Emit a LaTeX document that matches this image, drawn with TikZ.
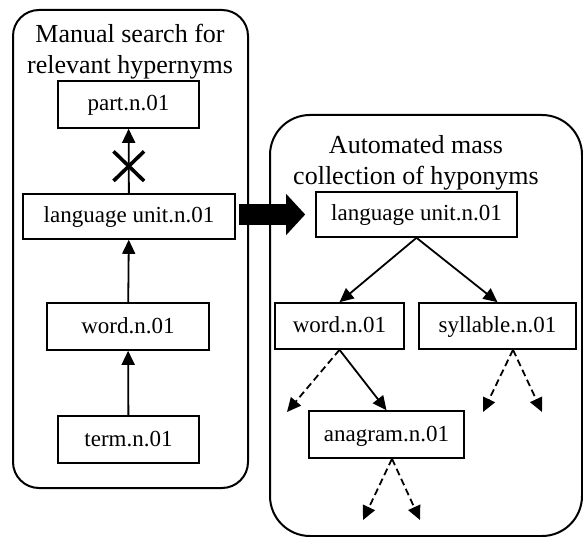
\documentclass[tikz,border=0pt]{standalone}
\usepackage{fontspec}
\setmainfont{Liberation Serif}
\usetikzlibrary{arrows.meta,shapes.misc}

\tikzset{
  synset/.style={draw, line width=1.6pt, inner sep=0pt, text height=17pt, text depth=4pt,
    font=\fontsize{23}{27}\selectfont},
  group/.style={draw, line width=2pt},
  grouptitle/.style={align=center, inner sep=0pt, font=\fontsize{26}{31}\selectfont},
  hyp/.style={line width=1.8pt, -{Triangle[length=14pt,width=13pt]}},
  more/.style={hyp, dash pattern=on 7pt off 4pt},
  nope/.style={cross out, draw, line width=3.6pt, inner sep=0pt, minimum width=27pt, minimum height=26pt},
  handover/.style={line width=21pt, shorten <=3pt, shorten >=10pt, -{Triangle[length=19pt,width=40pt]}}
}

\begin{document}
\begin{tikzpicture}[x=1pt,y=-1pt]
\useasboundingbox (0,0) rectangle (583,537);

% manual part
\draw[group, rounded corners=26pt] (13,10) rectangle (248,488);
\node[grouptitle] (ttl1) at (130,51.5) {Manual search for\\relevant hypernyms};
\node[synset, minimum width=141pt, minimum height=47pt] (part) at (128.5,104.5) {part.n.01};
\node[synset, minimum width=212pt, minimum height=45pt] (lu1) at (129,216.5) {language unit.n.01};
\node[synset, minimum width=162pt, minimum height=47pt] (word1) at (128,326.5) {word.n.01};
\node[synset, minimum width=141pt, minimum height=47pt] (term) at (128.5,439.5) {term.n.01};

\draw[hyp] (term) -- (word1);
\draw[hyp] (word1) -- (lu1);
\draw[hyp] (lu1) -- node[nope, pos=0.42] (cut) {} (part);

% automated part
\draw[group, rounded corners=40pt] (270,115) rectangle (582,536);
\node[grouptitle] (ttl2) at (416,162.5) {Automated mass\\collection of hyponyms};
\node[synset, minimum width=201pt, minimum height=45pt] (lu2) at (416.5,214.5) {language unit.n.01};
\node[synset, minimum width=129pt, minimum height=46pt] (word2) at (339.5,326) {word.n.01};
\node[synset, minimum width=157pt, minimum height=46pt] (syll) at (497.5,326) {syllable.n.01};
\node[synset, minimum width=155pt, minimum height=47pt] (anag) at (386.5,434.5) {anagram.n.01};

\coordinate (w1) at (287,412);
\coordinate (s1) at (483,412);
\coordinate (s2) at (542,412);
\coordinate (a1) at (363,520);
\coordinate (a2) at (420,520);

\draw[hyp] (lu2.south) -- (word2.north);
\draw[hyp] (lu2.south) -- (syll.north);
\draw[hyp] (word2.south) -- (anag.north);
\draw[more] (word2.south) -- (w1);
\draw[more] ([xshift=15.5pt]syll.south) -- (s1);
\draw[more] ([xshift=15.5pt]syll.south) -- (s2);
\draw[more] ([xshift=5.5pt]anag.south) -- (a1);
\draw[more] ([xshift=5.5pt]anag.south) -- (a2);

\draw[handover] (lu1.east |- lu2.west) -- (lu2.west);
\end{tikzpicture}
\end{document}
